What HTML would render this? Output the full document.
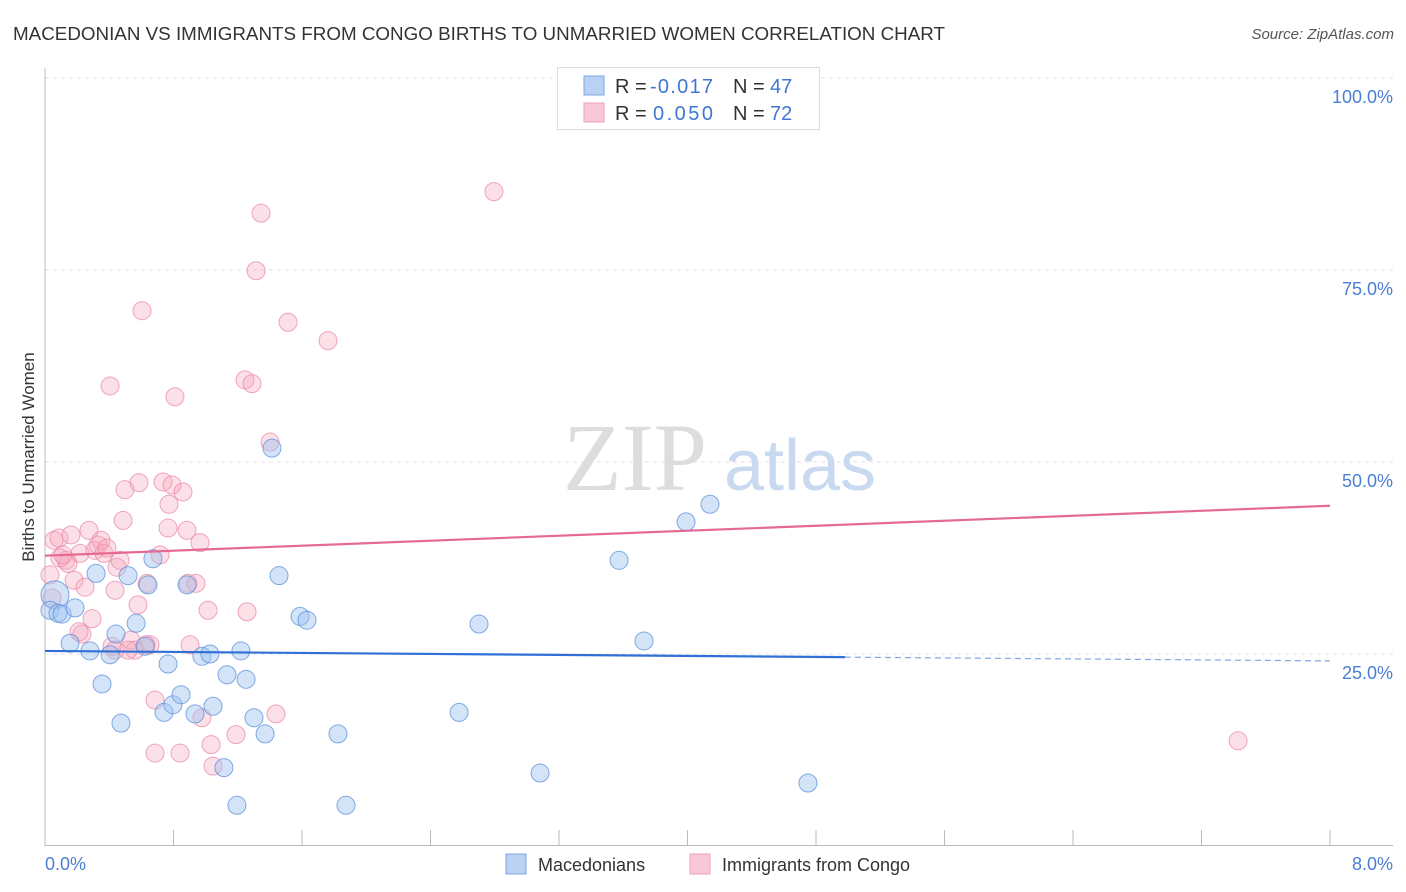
<!DOCTYPE html>
<html><head><meta charset="utf-8"><style>
body{margin:0;background:#fff;font-family:"Liberation Sans",sans-serif;}
svg{display:block}
</style></head><body>
<svg id="chart" width="1406" height="892" xmlns="http://www.w3.org/2000/svg">
<text x="13" y="40" font-size="18" fill="#333" textLength="932" lengthAdjust="spacingAndGlyphs">MACEDONIAN VS IMMIGRANTS FROM CONGO BIRTHS TO UNMARRIED WOMEN CORRELATION CHART</text>
<text x="1394" y="39" font-size="15" fill="#555" text-anchor="end" font-style="italic">Source: ZipAtlas.com</text>
<g id="grid"></g>
<g>
<text x="635" y="490" font-size="96" fill="#ddd" font-family="Liberation Serif" text-anchor="middle">ZIP</text>
<text x="800" y="490" font-size="72" fill="#c9daf0" text-anchor="middle">atlas</text>
</g>
<line x1="45" y1="68" x2="45" y2="846" stroke="#bbb"/>
<line x1="45" y1="845.5" x2="1393" y2="845.5" stroke="#bbb"/>
<g id="ticks"></g>
<text transform="translate(34,457) rotate(-90)" font-size="17" fill="#333" text-anchor="middle">Births to Unmarried Women</text>
<text x="45" y="870" font-size="18" fill="#4a7fd4">0.0%</text>
<text x="1393" y="870" font-size="18" fill="#4a7fd4" text-anchor="end">8.0%</text>
<g id="pts"></g>
<g id="trends"></g>
<g>
<rect x="557.5" y="67.5" width="262" height="62" fill="#fff" stroke="#ddd"/>
<rect x="584" y="76" width="20" height="19" fill="#b9d2f3" stroke="#7aa8e6"/>
<rect x="584" y="103" width="20" height="19" fill="#f8c8d6" stroke="#eea0b8"/>
<text x="615" y="93" font-size="20" fill="#333">R =</text>
<text x="650" y="93" font-size="20" fill="#3f77d3" textLength="63">-0.017</text>
<text x="733" y="93" font-size="20" fill="#333">N =</text>
<text x="770" y="93" font-size="20" fill="#3f77d3">47</text>
<text x="615" y="120" font-size="20" fill="#333">R =</text>
<text x="653" y="120" font-size="20" fill="#3f77d3" textLength="60">0.050</text>
<text x="733" y="120" font-size="20" fill="#333">N =</text>
<text x="770" y="120" font-size="20" fill="#3f77d3">72</text>
</g>
<g>
<rect x="506" y="854" width="20" height="20" fill="#b9d2f3" stroke="#7aa8e6"/>
<text x="538" y="871" font-size="18" fill="#333">Macedonians</text>
<rect x="690" y="854" width="20" height="20" fill="#f8c8d6" stroke="#eea0b8"/>
<text x="722" y="871" font-size="18" fill="#333">Immigrants from Congo</text>
</g>
</svg>
<script>
const yTicks=[25,50,75,100];
const yTickLabels=["25.0%","50.0%","75.0%","100.0%"];
const xTicks=[0,0.8,1.6,2.4,3.2,4.0,4.8,5.6,6.4,7.2,8.0];
const blueX=[.062,.031,.081,.106,.187,.156,.280,.318,.355,.405,.442,.473,.517,.567,.623,.641,.672,.741,.766,.797,.847,.884,.934,.977,1.027,1.046,1.114,1.133,1.195,1.220,1.252,1.301,1.370,1.413,1.457,1.588,1.631,1.824,1.874,2.578,2.702,3.082,3.574,3.729,3.991,4.140,4.750];
const blueY=[32.7,30.7,30.3,30.2,31.0,26.4,25.4,35.5,21.1,24.9,27.6,16.0,35.2,29.0,26.0,34.0,37.4,17.4,23.7,18.4,19.7,34.0,17.2,24.7,25.0,18.2,10.2,22.3,5.3,25.4,21.7,16.7,14.6,51.8,35.2,29.9,29.4,14.6,5.3,17.4,28.9,9.5,37.2,26.7,42.2,44.5,8.2];
const pinkX=[.056,.087,.031,.044,.093,.131,.162,.181,.143,.218,.249,.274,.293,.311,.330,.349,.367,.405,.448,.417,.436,.467,.486,.498,.535,.560,.579,.585,.604,.635,.654,.685,.685,.716,.735,.766,.772,.791,.809,.841,.859,.884,.890,.903,.965,.977,1.015,1.034,1.046,1.189,1.245,1.258,1.289,1.314,1.345,1.401,1.438,1.513,1.762,2.795,7.428,.112,.386,.517,.230,.212,.436,.940,.629];
const pinkY=[39.8,40.1,35.3,32.3,37.5,37.2,40.5,34.6,36.8,38.1,33.7,41.1,29.6,38.5,39.2,39.8,38.1,59.9,36.3,26.0,33.3,37.2,42.4,46.4,26.8,25.5,31.4,47.3,69.7,34.2,26.2,19.0,12.1,37.9,47.4,41.4,44.5,47.0,58.5,12.1,46.1,41.1,34.2,26.2,39.5,16.7,30.7,13.2,10.4,14.5,60.7,30.5,60.2,74.9,82.4,52.6,17.2,68.2,65.8,85.2,13.7,37.9,38.8,25.5,27.6,27.9,25.5,34.2,26.2];
const blueTrend=[25.4,24.1];
const pinkTrend=[37.8,44.3];
const NS="http://www.w3.org/2000/svg";
const X=v=>45+v/8*1285, Y=v=>846-v/100*768;
function mk(t,a,p){const e=document.createElementNS(NS,t);for(const k in a)e.setAttribute(k,a[k]);p.appendChild(e);return e;}
const grid=document.getElementById('grid');
yTicks.forEach((t,i)=>{
 const l=mk('line',{x1:45,x2:1393,y1:Y(t),y2:Y(t),stroke:'#e2e2e2','stroke-dasharray':'4,4'},grid);
 
 
 const tx=mk('text',{x:1393,y:Y(t)+25,'font-size':18,fill:'#4a7fd4','text-anchor':'end'},grid);
 tx.textContent=yTickLabels[i];
 
 
});
const tk=document.getElementById('ticks');
xTicks.forEach(t=>{const l=mk('line',{x1:X(t),x2:X(t),y1:830,y2:846,stroke:'#bbb'},tk);
 
 });
const pts=document.getElementById('pts');
function dots(xs,ys,fill,stroke,name){xs.forEach((x,i)=>{
 const r=(name==='macedonian-point'&&i===0)?14:9;
 const c=mk('circle',{cx:X(x),cy:Y(ys[i]),r:r,fill:fill,stroke:stroke,'stroke-width':1,'stroke-opacity':0.75},pts);
 
 });}
dots(pinkX,pinkY,'rgba(245,165,190,0.35)','#e98aa8','congo-point');
dots(blueX,blueY,'rgba(160,195,240,0.45)','#5b8fd9','macedonian-point');
const tr=document.getElementById('trends');
const bx=4.98, by=blueTrend[0]+(blueTrend[1]-blueTrend[0])*bx/8;
let l=mk('line',{x1:X(0),y1:Y(blueTrend[0]),x2:X(bx),y2:Y(by),stroke:'#2f6fd6','stroke-width':2.2},tr);


l=mk('line',{x1:X(bx),y1:Y(by),x2:X(8),y2:Y(blueTrend[1]),stroke:'#7fa6e0','stroke-width':1.2,'stroke-dasharray':'6,4'},tr);


l=mk('line',{x1:X(0),y1:Y(pinkTrend[0]),x2:X(8),y2:Y(pinkTrend[1]),stroke:'#e46a92','stroke-width':2.2},tr);


</script>
</body></html>
